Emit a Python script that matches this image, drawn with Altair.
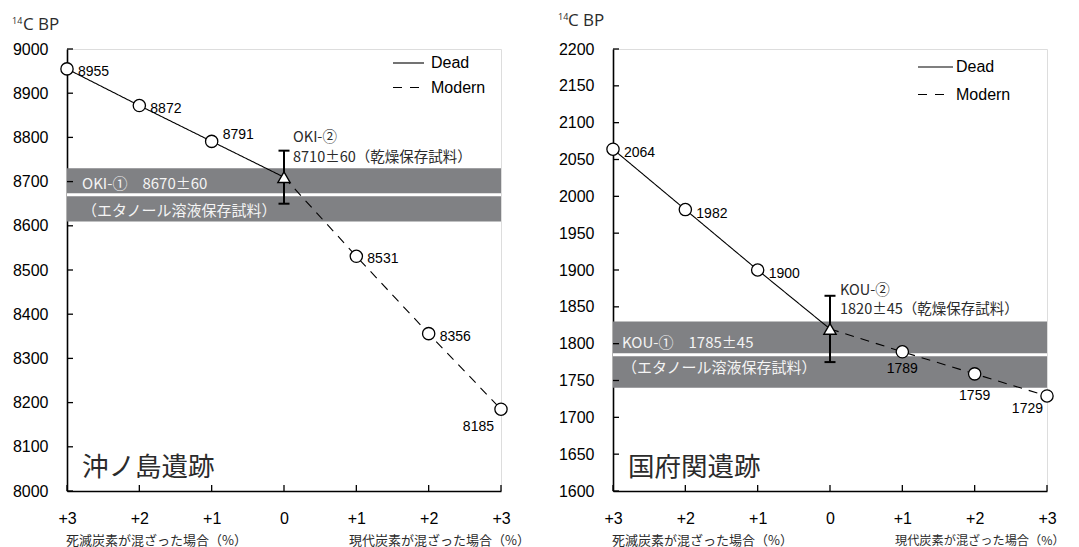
import json
import altair as alt
import pandas as pd

# ---------------- data ----------------
X_STEPS = [-3, -2, -1, 0, 1, 2, 3]
X_TICK_LABELS = ["+3", "+2", "+1", "0", "+1", "+2", "+3"]
SERIES = ["Dead", "Modern"]

OKI_VALUES = [8955, 8872, 8791, 8710, 8531, 8356, 8185]
OKI_Y_TICKS = [8000, 8100, 8200, 8300, 8400, 8500, 8600, 8700, 8800, 8900, 9000]
OKI_DRY = [8710, 60]
OKI_ETH = [8670, 60]
OKI_DRY_TEXT = ["OKI-②", "8710±60（乾燥保存試料）"]
OKI_ETH_TEXT = ["OKI-①\u30008670±60", "（エタノール溶液保存試料）"]
OKI_SITE = "沖ノ島遺跡"

KOU_VALUES = [2064, 1982, 1900, 1820, 1789, 1759, 1729]
KOU_Y_TICKS = [1600, 1650, 1700, 1750, 1800, 1850, 1900, 1950, 2000, 2050, 2100, 2150, 2200]
KOU_DRY = [1820, 45]
KOU_ETH = [1785, 45]
KOU_DRY_TEXT = ["KOU-②", "1820±45（乾燥保存試料）"]
KOU_ETH_TEXT = ["KOU-①\u30001785±45", "（エタノール溶液保存試料）"]
KOU_SITE = "国府関遺跡"

Y_UNIT = ["14", "C BP"]
X_TITLES = ["死滅炭素が混ざった場合（%）", "現代炭素が混ざった場合（%）"]

# ---------------- style ----------------
W, H = 434, 442
LATIN = "Liberation Sans"
CJK = "Noto Sans CJK JP"
BAND = "#808184"
TXT = "#2b2b2b"


def panel(values, yticks, dry, eth, dry_text, eth_text, site, st):
    xs = alt.Scale(domain=[X_STEPS[0], X_STEPS[-1]], nice=False, zero=False)
    ys = alt.Scale(domain=[yticks[0], yticks[-1]], nice=False, zero=False)
    xax = alt.Axis(values=X_STEPS, labelExpr="%s[datum.value + 3]" % json.dumps(X_TICK_LABELS),
                   ticks=False, tickSize=0, labelPadding=19, labelFont=LATIN, labelFontSize=16,
                   labelColor="black", domainColor="black", domainWidth=1.6, grid=False,
                   title=None, labelFlush=False, labelOverlap=False)
    yax = alt.Axis(values=yticks, format="d", ticks=False, tickSize=0, labelPadding=19,
                   labelFont=LATIN, labelFontSize=16, labelColor="black", domainColor="black",
                   domainWidth=1.6, grid=False, title=None, labelFlush=False, labelOverlap=False)

    def X(f):
        return alt.X(f"{f}:Q", scale=xs, axis=xax)

    def Y(f):
        return alt.Y(f"{f}:Q", scale=ys, axis=yax)

    rows = []
    for x, v in zip(X_STEPS, values):
        if x <= 0:
            rows.append({"x": x, "y": v, "series": SERIES[0]})
        if x >= 0:
            rows.append({"x": x, "y": v, "series": SERIES[1]})
    line_df = pd.DataFrame(rows)
    pts = pd.DataFrame({"x": X_STEPS, "y": values, "i": list(range(len(X_STEPS))),
                        "lab": [str(v) for v in values]})
    circ = pts[pts.x != 0]
    tri = pts[pts.x == 0]
    band_df = pd.DataFrame({"c": [eth[0]], "lo": [eth[0] - eth[1]], "hi": [eth[0] + eth[1]],
                            "x": [X_STEPS[0]]})
    err_df = pd.DataFrame({"x": [0, 0], "y": [dry[0] - dry[1], dry[0] + dry[1]],
                           "lo": [dry[0] - dry[1]] * 2, "hi": [dry[0] + dry[1]] * 2,
                           "c": [dry[0]] * 2})
    one = pd.DataFrame({"a": [0]})
    ytick_df = pd.DataFrame({"t": yticks})
    xtick_df = pd.DataFrame({"t": X_STEPS})

    layers = []
    # grey band + white centre line
    layers.append(alt.Chart(band_df).mark_rect(color=BAND).encode(
        x=alt.value(0), x2=alt.value(W), y=Y("lo"), y2=alt.Y2("hi:Q")))
    layers.append(alt.Chart(band_df).mark_rule(color="white", strokeWidth=3).encode(
        x=alt.value(0), x2=alt.value(W), y=Y("c")))
    # band texts
    for k, dy in enumerate(st["eth_dy"]):
        layers.append(alt.Chart(band_df).mark_text(
            text=eth_text[k], align="left", baseline="middle", font=CJK, fontSize=15,
            color="#f4f4f4", dx=st["eth_dx"], dy=dy).encode(x=X("x"), y=Y("c")))
    # inward ticks
    layers.append(alt.Chart(ytick_df).mark_rule(color="black", strokeWidth=1.3).encode(
        y=Y("t"), x=alt.value(0), x2=alt.value(6)))
    layers.append(alt.Chart(xtick_df).mark_rule(color="black", strokeWidth=1.3).encode(
        x=X("t"), y=alt.value(H), y2=alt.value(H - 6)))
    # lines
    layers.append(alt.Chart(line_df).mark_line(color="black", strokeWidth=1.1).encode(
        x=X("x"), y=Y("y"),
        strokeDash=alt.StrokeDash("series:N", scale=alt.Scale(domain=SERIES, range=[[1, 0], [9, 7]]),
                                  legend=None),
        detail="series:N"))
    # error bar
    layers.append(alt.Chart(err_df.iloc[:1]).mark_rule(color="black", strokeWidth=2).encode(
        x=X("x"), y=Y("lo"), y2=alt.Y2("hi:Q")))
    layers.append(alt.Chart(err_df).mark_tick(orient="horizontal", color="black", size=11,
                                              thickness=2, opacity=1).encode(x=X("x"), y=Y("y")))
    # markers
    layers.append(alt.Chart(circ).mark_point(shape="circle", size=150, fill="white", stroke="black",
                                            strokeWidth=1.3, opacity=1).encode(x=X("x"), y=Y("y")))
    layers.append(alt.Chart(tri).mark_point(shape="triangle-up", size=150, fill="white",
                                           stroke="black", strokeWidth=1.4, opacity=1).encode(
        x=X("x"), y=Y("y")))
    # value labels
    for idx, dx, dy, al in st["labels"]:
        layers.append(alt.Chart(pts).transform_filter(
            alt.FieldOneOfPredicate(field="i", oneOf=idx)).mark_text(
            align=al, baseline="middle", font=LATIN, fontSize=14, color="black", dx=dx, dy=dy).encode(
            x=X("x"), y=Y("y"), text="lab:N"))
    # dry-sample annotation
    for k, dy in enumerate(st["dry_dy"]):
        layers.append(alt.Chart(tri).mark_text(
            text=dry_text[k], align="left", baseline="middle", font=CJK, fontSize=14.5, color=TXT,
            dx=st["dry_dx"], dy=dy).encode(x=X("x"), y=Y("y")))
    # legend (drawn)
    lx0, lx1, ltx, ly = st["legend"]
    layers.append(alt.Chart(one).mark_rule(color="black", strokeWidth=1.1).encode(
        x=alt.value(lx0), x2=alt.value(lx1), y=alt.value(ly[0])))
    layers.append(alt.Chart(one).mark_rule(color="black", strokeWidth=1.1, strokeDash=[9, 8]).encode(
        x=alt.value(lx0), x2=alt.value(lx1 - 4), y=alt.value(ly[1])))
    for k in range(2):
        layers.append(alt.Chart(one).mark_text(text=SERIES[k], align="left", baseline="middle",
                                               font=LATIN, fontSize=16, color="black").encode(
            x=alt.value(ltx), y=alt.value(ly[k])))
    # site name
    layers.append(alt.Chart(one).mark_text(text=site, align="left", baseline="middle", font=CJK,
                                           fontSize=26.5, color=TXT).encode(
        x=alt.value(15), y=alt.value(H - 23)))
    # y unit
    uy, ux = st["unit"]
    layers.append(alt.Chart(one).mark_text(text=Y_UNIT[0], align="left", baseline="top",
                                           font="Open Sans", fontSize=9, color=TXT).encode(
        x=alt.value(-55), y=alt.value(uy)))
    layers.append(alt.Chart(one).mark_text(text=Y_UNIT[1], align="left", baseline="top",
                                           font="Open Sans", fontSize=17, color=TXT).encode(
        x=alt.value(ux), y=alt.value(uy)))
    # x titles
    layers.append(alt.Chart(one).mark_text(text=X_TITLES[0], align="left", baseline="middle",
                                           font=CJK, fontSize=13, color=TXT).encode(
        x=alt.value(-1), y=alt.value(H + 50)))
    layers.append(alt.Chart(one).mark_text(text=X_TITLES[1], align="left", baseline="middle",
                                           font=CJK, fontSize=st["xt_size"], color=TXT).encode(
        x=alt.value(282), y=alt.value(H + 50)))

    return alt.layer(*layers).properties(width=W, height=H)


oki_style = {
    "eth_dx": 15, "eth_dy": [-11, 16],
    "dry_dx": 9, "dry_dy": [-39, -19],
    "labels": [([0, 1, 4, 5], 11, 3, "left"), ([2], 11, -6, "left"), ([6], -7, 18, "right")],
    "legend": (326, 357, 364, (14, 38.5)),
    "unit": (-32.5, -44),
    "xt_size": 13,
}
kou_style = {
    "eth_dx": 9, "eth_dy": [-12, 13],
    "dry_dx": 10, "dry_dy": [-38, -19],
    "labels": [([0, 1, 2], 11, 4, "left"), ([4], 0, 17, "center"), ([5], 0, 22, "center"),
               ([6], -4, 13, "right")],
    "legend": (305, 340, 343, (18, 45.5)),
    "unit": (-36.5, -45),
    "xt_size": 12.2,
}

left = panel(OKI_VALUES, OKI_Y_TICKS, OKI_DRY, OKI_ETH, OKI_DRY_TEXT, OKI_ETH_TEXT, OKI_SITE, oki_style)
right = panel(KOU_VALUES, KOU_Y_TICKS, KOU_DRY, KOU_ETH, KOU_DRY_TEXT, KOU_ETH_TEXT, KOU_SITE, kou_style)

chart = alt.hconcat(left, right, spacing=112, bounds="flush").properties(
    padding={"left": 3, "top": 3, "right": 0, "bottom": 0}
).configure_view(stroke="#555555", strokeWidth=1.5).configure(background="white")

chart.save("out.html", embed_options={"renderer": "svg", "actions": False})
